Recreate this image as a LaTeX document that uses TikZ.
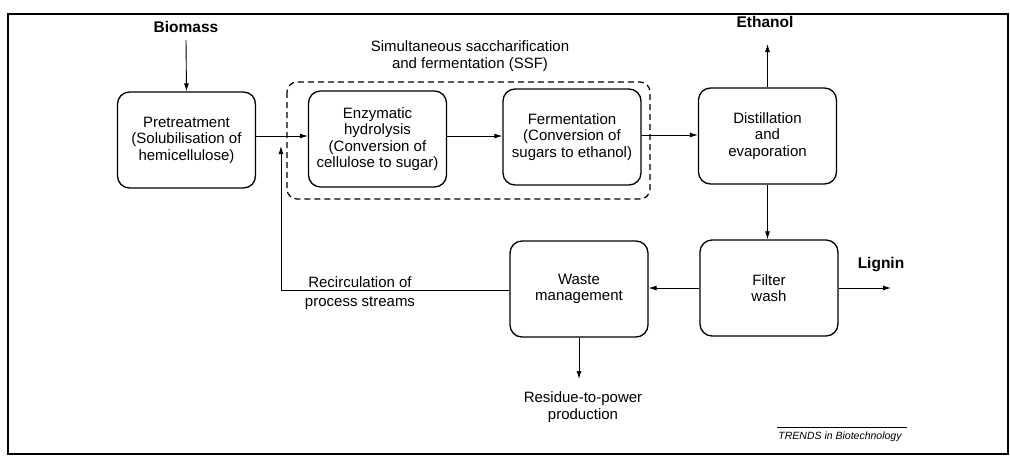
\documentclass[tikz,border=0pt]{standalone}
\usepackage{fontspec}
\setmainfont{Liberation Sans}
\usetikzlibrary{arrows.meta}
\begin{document}
\begin{tikzpicture}[x=1pt,y=-1pt,
  proc/.style={draw,line width=1.3pt,rounded corners=12pt,minimum width=138pt,minimum height=96pt,align=center,inner sep=2pt,font=\fontsize{15}{16.5}\selectfont},
  lbl/.style={align=center,font=\fontsize{15}{16.5}\selectfont},
  blbl/.style={font=\fontsize{15.5}{17}\selectfont\bfseries},
  arr/.style={line width=0.9pt,-{Latex[length=8pt,width=5pt]}},
  ln/.style={line width=0.9pt}]
\useasboundingbox (0,0) rectangle (1010,456);
\draw[line width=1.2pt] (8,14) rectangle (1008,454);
% SSF dashed group
\draw[line width=1.2pt,dashed,dash pattern=on 6pt off 4pt,rounded corners=10pt] (287,82) rectangle (650,199);
\node[lbl] (ssf) at (470,56) {Simultaneous saccharification\\and fermentation (SSF)};
% process boxes
\node[proc] (pre) at (186.5,140) {Pretreatment\\(Solubilisation of\\hemicellulose)};
\node[proc] (enz) at (377.5,139) {Enzymatic\\hydrolysis\\(Conversion of\\cellulose to sugar)};
\node[proc] (fer) at (572,137) {Fermentation\\(Conversion of\\sugars to ethanol)};
\node[proc] (dis) at (767.5,136) {Distillation\\and\\evaporation};
\node[proc] (fil) at (769,288) {Filter\\wash};
\node[proc] (wst) at (579,289) {Waste\\management};
% labels
\node[blbl] (bio) at (186,27) {Biomass};
\node[blbl] (eth) at (765,22) {Ethanol};
\node[blbl] (lig) at (881,265) {Lignin};
\node[lbl] (res) at (583,407) {Residue-to-power\\production};
\node[lbl] (rcl) at (360,293) {Recirculation of\\[3pt]process streams};
\node[font=\fontsize{10.5}{12}\selectfont\itshape] (trd) at (840,437) {TRENDS in Biotechnology};
\draw[line width=0.7pt] (trd.north west)++(2pt,1pt) -- ++(130pt,0);
% coordinates
\coordinate (bioS) at (186,40);
\coordinate (ethN) at (767.5,44);
\coordinate (ligE) at (891,288);
\coordinate (resN) at (579,379);
\coordinate (recC) at (281,290);
\coordinate (recE) at (281,146);
% connectors
\draw[arr] (bioS) -- (pre.north);
\draw[arr] (pre.east |- 0,136) -- (enz.west |- 0,136);
\draw[arr] (enz.east |- 0,136) -- (fer.west |- 0,136);
\draw[arr] (fer.east |- 0,135) -- (dis.west |- 0,135);
\draw[arr] (dis.north) -- (ethN);
\draw[arr] (dis.south) -- (dis.south |- fil.north);
\draw[arr] (fil.west) -- (wst.east |- fil.west);
\draw[arr] (fil.east) -- (ligE);
\draw[arr] (wst.south) -- (resN);
\draw[ln] (wst.west |- recC) -- (recC);
\draw[arr] (recC) -- (recE);
\end{tikzpicture}
\end{document}
